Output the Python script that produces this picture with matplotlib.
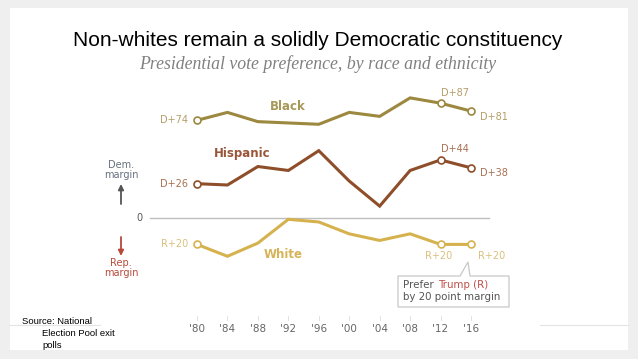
import matplotlib
matplotlib.use("Agg")
import matplotlib.pyplot as plt
from matplotlib.patches import Rectangle, Polygon

years = [1980, 1984, 1988, 1992, 1996, 2000, 2004, 2008, 2012, 2016]
tick_labels = ["'80", "'84", "'88", "'92", "'96", "'00", "'04", "'08", "'12", "'16"]
black = [74, 80, 73, 72, 71, 80, 77, 91, 87, 81]
hispanic = [26, 25, 39, 36, 51, 28, 9, 36, 44, 38]
white = [-20, -29, -19, -1, -3, -12, -17, -12, -20, -20]

W, H = 638, 359
fig = plt.figure(figsize=(W / 100, H / 100), dpi=100)
fig.patch.set_facecolor("#efefef")


def fx(x, y):
    # pixel position -> figure coords
    return x / W, 1 - y / H


# white slide panel
fig.patches.append(Rectangle(fx(10, 350), 618 / W, 342 / H, transform=fig.transFigure,
                             facecolor="white", edgecolor="none", zorder=-2))
# faint rule behind the chart image
for x0, x1 in [(10, 100), (540, 628)]:
    fig.add_artist(plt.Line2D([x0 / W, x1 / W], [1 - 325 / H] * 2, transform=fig.transFigure,
                              color="#e4e4e4", lw=0.8, zorder=-1))

# axes spans whole figure; limits chosen so 1980 -> x=197px, 2016 -> 471px, 0 -> y=218px
ax = fig.add_axes([0, 0, 1, 1])
ax.set_axis_off()
ppy = 274 / 36.0
ppv = 1.32
ax.set_xlim(1980 - 197 / ppy, 1980 + (W - 197) / ppy)
ax.set_ylim(-(H - 218) / ppv, 218 / ppv)

ax.axhline(0, xmin=150 / W, xmax=489 / W, color="#bdbdbd", lw=1)

c_black, c_hisp, c_white = "#9c883e", "#8e4e2a", "#d6b24e"
for vals, c in [(black, c_black), (hispanic, c_hisp), (white, c_white)]:
    ax.plot(years, vals, color=c, lw=2.2, solid_joinstyle="miter", zorder=3)
    idx = [0, 8, 9]
    ax.plot([years[i] for i in idx], [vals[i] for i in idx], "o", ms=5,
            mfc="white", mec=c, mew=1.2, zorder=4)

tkw = dict(transform=fig.transFigure, fontsize=7, family="DejaVu Sans")
# series labels
fig.text(*fx(288, 106), "Black", color="#a89858", fontsize=8.5, fontweight="bold",
         ha="center", va="center", transform=fig.transFigure)
fig.text(*fx(242, 154), "Hispanic", color="#9a5638", fontsize=8.5, fontweight="bold",
         ha="center", va="center", transform=fig.transFigure)
fig.text(*fx(283, 254), "White", color="#d6b45a", fontsize=8.5, fontweight="bold",
         ha="center", va="center", transform=fig.transFigure)

# value labels
vl_b, vl_h, vl_w = "#b49e68", "#a87050", "#d8c07c"
fig.text(*fx(188, 120), "D+%d" % black[0], color=vl_b, ha="right", va="center", **tkw)
fig.text(*fx(455, 93), "D+%d" % black[8], color=vl_b, ha="center", va="center", **tkw)
fig.text(*fx(480, 117), "D+%d" % black[9], color=vl_b, ha="left", va="center", **tkw)
fig.text(*fx(188, 184), "D+%d" % hispanic[0], color=vl_h, ha="right", va="center", **tkw)
fig.text(*fx(455, 149), "D+%d" % hispanic[8], color=vl_h, ha="center", va="center", **tkw)
fig.text(*fx(480, 173), "D+%d" % hispanic[9], color=vl_h, ha="left", va="center", **tkw)
fig.text(*fx(188, 244), "R+%d" % -white[0], color=vl_w, ha="right", va="center", **tkw)
fig.text(*fx(439, 256), "R+%d" % -white[8], color=vl_w, ha="center", va="center", **tkw)
fig.text(*fx(492, 256), "R+%d" % -white[9], color=vl_w, ha="center", va="center", **tkw)

# left margin annotations
fig.text(*fx(139, 218), "0", color="#555555", ha="center", va="center", **tkw)
fig.text(*fx(121, 170), "Dem.\nmargin", color="#667080", ha="center", va="center",
         linespacing=1.0, **tkw)
fig.text(*fx(121, 268), "Rep.\nmargin", color="#b54a3a", ha="center", va="center",
         linespacing=1.0, **tkw)
ax.annotate("", xy=fx(121, 184), xytext=fx(121, 204), xycoords="figure fraction",
            arrowprops=dict(arrowstyle="-|>", color="#555555", lw=1.3, mutation_scale=8,
                            shrinkA=0, shrinkB=0))
ax.annotate("", xy=fx(121, 256), xytext=fx(121, 237), xycoords="figure fraction",
            arrowprops=dict(arrowstyle="-|>", color="#b54a3a", lw=1.3, mutation_scale=8,
                            shrinkA=0, shrinkB=0))

# callout box
pts = [(398, 276), (460, 276), (468, 262), (470, 276), (509, 276), (509, 307), (398, 307)]
fig.patches.append(Polygon([fx(*p) for p in pts], closed=True, transform=fig.transFigure,
                           facecolor="white", edgecolor="#c8c8c8", lw=0.9, zorder=5))
ckw = dict(transform=fig.transFigure, fontsize=7.4, family="DejaVu Sans",
           ha="left", va="center", zorder=6)
t1 = fig.text(*fx(403, 285), "Prefer", color="#555555", **ckw)
fig.canvas.draw()
bb = t1.get_window_extent()
fig.text(bb.x1 / W + 4 / W, 1 - 285 / H, "Trump (R)", color="#c0504a", **ckw)
fig.text(*fx(403, 297), "by 20 point margin", color="#555555", **ckw)

# year axis
for yr, lab in zip(years, tick_labels):
    ax.plot([yr, yr], [-(316 - 218) / ppv, -(320 - 218) / ppv], color="#dddddd", lw=0.6)
    ax.text(yr, -(329 - 218) / ppv, lab, color="#666666", fontsize=7.5,
            ha="center", va="center")

# titles
fig.text(*fx(318, 41), "Non-whites remain a solidly Democratic constituency",
         fontsize=15, family="Liberation Sans", ha="center", va="center",
         transform=fig.transFigure)
fig.text(*fx(318, 64), "Presidential vote preference, by race and ethnicity",
         fontsize=12.8, family="Liberation Serif", style="italic", color="#808080",
         ha="center", va="center", transform=fig.transFigure)

# source
skw = dict(fontsize=6.8, family="Liberation Sans", va="center", transform=fig.transFigure)
fig.text(*fx(22, 322), "Source: National", **skw)
fig.text(*fx(42, 334), "Election Pool exit", **skw)
fig.text(*fx(42, 345), "polls", **skw)

fig.savefig("out.png", dpi=100, facecolor=fig.get_facecolor())
